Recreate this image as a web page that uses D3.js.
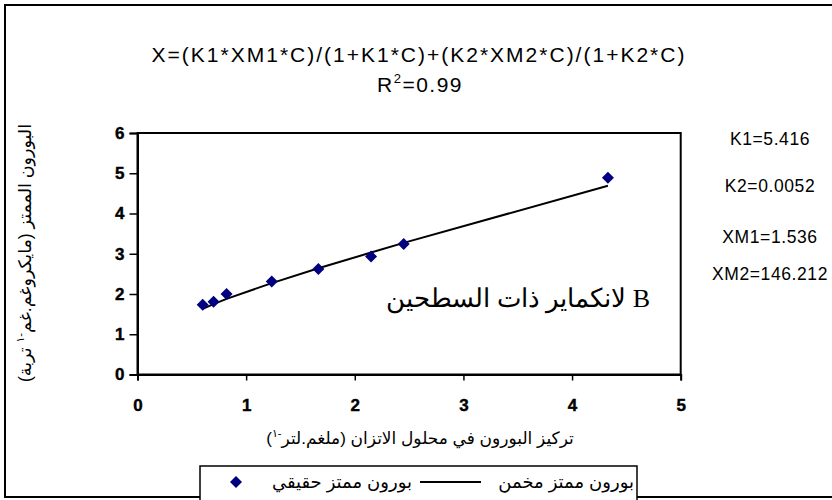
<!DOCTYPE html>
<html>
<head>
<meta charset="utf-8">
<script src="https://cdn.jsdelivr.net/npm/d3@7"></script>
<style>
  html, body { margin: 0; padding: 0; background: #fff; }
  svg { display: block; }
  .tick text { font-family: 'Liberation Sans', Arial, sans-serif; font-weight: bold; font-size: 17px; }
</style>
</head>
<body>
<svg id="chart" width="832" height="500"></svg>
<script>
// Equilibrium boron concentration (mg/L) and adsorbed boron (µg/g soil)
const concentration = [0.60, 0.70, 0.82, 1.236, 1.665, 2.15, 2.45, 4.33];
const adsorbedActual = [1.73, 1.81, 2.00, 2.31, 2.62, 2.93, 3.24, 4.89];
const adsorbedEstimated = [1.63, 1.75, 1.88, 2.27, 2.64, 3.03, 3.27, 4.69];

const xTicks = [0, 1, 2, 3, 4, 5];
const yTicks = [0, 1, 2, 3, 4, 5, 6];

const fitTitle = "X=(K1*XM1*C)/(1+K1*C)+(K2*XM2*C)/(1+K2*C)";
const fitParams = ["K1=5.416", "K2=0.0052", "XM1=1.536", "XM2=146.212"];
const seriesNames = ["بورون ممتز حقيقي", "بورون ممتز مخمن"];

const svg = d3.select("#chart");
const sans = "Arial, 'Liberation Sans', 'DejaVu Sans', sans-serif";

const x = d3.scaleLinear().domain([0, 5]).range([137.5, 680.7]);
const y = d3.scaleLinear().domain([0, 6]).range([374.5, 133]);

// outer chart frame
svg.append("rect")
  .attr("x", 5).attr("y", 5).attr("width", 840).attr("height", 492)
  .attr("fill", "none").attr("stroke", "#000").attr("stroke-width", 2);

// plot area frame
svg.append("rect")
  .attr("x", x(0)).attr("y", y(6))
  .attr("width", x(5) - x(0)).attr("height", y(0) - y(6))
  .attr("fill", "#fff").attr("stroke", "#000").attr("stroke-width", 2);

// axes
const xAxis = d3.axisBottom(x).tickValues(xTicks).tickSize(6).tickPadding(18).tickFormat(d3.format("d"));
const yAxis = d3.axisLeft(y).tickValues(yTicks).tickSize(8).tickPadding(5).tickFormat(d3.format("d"));

const gx = svg.append("g").attr("transform", `translate(0,${y(0)})`).call(xAxis);
const gy = svg.append("g").attr("transform", `translate(${x(0)},0)`).call(yAxis);
[gx, gy].forEach(g => {
  g.attr("font-family", null).attr("font-size", null);
  g.select(".domain").attr("stroke", "#000").attr("stroke-width", 2);
  g.selectAll(".tick line").attr("stroke", "#000").attr("stroke-width", 1.5);
  g.selectAll(".tick text")
    .attr("fill", "#000")
    .attr("stroke", "#000")
    .attr("stroke-width", 0.4);
});

// fitted curve
const line = d3.line()
  .x((d, i) => x(concentration[i]))
  .y(d => y(d));
svg.append("path")
  .datum(adsorbedEstimated)
  .attr("d", line)
  .attr("fill", "none")
  .attr("stroke", "#000")
  .attr("stroke-width", 2);

// measured points
const diamond = "M0,-6L6,0L0,6L-6,0Z";
svg.append("g").selectAll("path")
  .data(adsorbedActual)
  .join("path")
  .attr("d", diamond)
  .attr("transform", (d, i) => `translate(${x(concentration[i])},${y(d)})`)
  .attr("fill", "#000080");

// model equation and fit quality
svg.append("text")
  .attr("x", 419).attr("y", 62)
  .attr("text-anchor", "middle")
  .style("font-family", sans).style("font-size", "21px")
  .style("letter-spacing", "2px")
  .text(fitTitle);

const r2 = svg.append("text")
  .attr("x", 420).attr("y", 92)
  .attr("text-anchor", "middle")
  .style("font-family", sans).style("font-size", "21px")
  .style("letter-spacing", "1.5px");
r2.append("tspan").text("R");
r2.append("tspan").attr("dy", -9).style("font-size", "13px").text("2");
r2.append("tspan").attr("dy", 9).text("=0.99");

// fitted parameters
const paramY = [145, 192, 243, 280];
svg.append("g").selectAll("text")
  .data(fitParams)
  .join("text")
  .attr("x", 770)
  .attr("y", (d, i) => paramY[i])
  .attr("text-anchor", "middle")
  .style("font-family", sans).style("font-size", "17.5px")
  .style("letter-spacing", "0.6px")
  .text(d => d);

// model annotation inside the plot
svg.append("text")
  .attr("x", 650).attr("y", 307)
  .attr("text-anchor", "end")
  .attr("direction", "ltr")
  .style("font-family", "'Liberation Serif', 'Times New Roman', 'DejaVu Serif', serif")
  .style("font-size", "26px")
  .text("لانكماير ذات السطحين  B");

// axis titles
const xTitle = svg.append("text")
  .attr("x", 420).attr("y", 444)
  .attr("text-anchor", "middle")
  .attr("direction", "rtl")
  .style("font-family", sans).style("font-size", "17px");
xTitle.append("tspan").text("تركيز البورون في محلول الاتزان (ملغم.لتر");
xTitle.append("tspan").attr("dy", -7).style("font-size", "11px").text("-١");
xTitle.append("tspan").attr("dy", 7).text(")");

const yTitle = svg.append("text")
  .attr("transform", "translate(31,253) rotate(-90)")
  .attr("text-anchor", "middle")
  .attr("direction", "rtl")
  .style("font-family", sans).style("font-size", "17.5px");
yTitle.append("tspan").text("البورون الممتز (مايكروغم.غم");
yTitle.append("tspan").attr("dy", -7).style("font-size", "11px").text("-١");
yTitle.append("tspan").attr("dy", 7).text(" تربة)");

// legend
const lg = svg.append("g");
lg.append("rect")
  .attr("x", 200).attr("y", 466).attr("width", 437).attr("height", 40)
  .attr("fill", "#fff").attr("stroke", "#000").attr("stroke-width", 1.5);
lg.append("path")
  .attr("d", diamond)
  .attr("transform", "translate(236,482)")
  .attr("fill", "#000080");
lg.append("text")
  .attr("x", 412).attr("y", 488)
  .attr("text-anchor", "end")
  .attr("direction", "ltr")
  .style("font-family", sans).style("font-size", "18px")
  .text(seriesNames[0]);
lg.append("line")
  .attr("x1", 420).attr("x2", 481).attr("y1", 482).attr("y2", 482)
  .attr("stroke", "#000").attr("stroke-width", 2);
lg.append("text")
  .attr("x", 634).attr("y", 488)
  .attr("text-anchor", "end")
  .attr("direction", "ltr")
  .style("font-family", sans).style("font-size", "18px")
  .text(seriesNames[1]);
</script>
</body>
</html>
